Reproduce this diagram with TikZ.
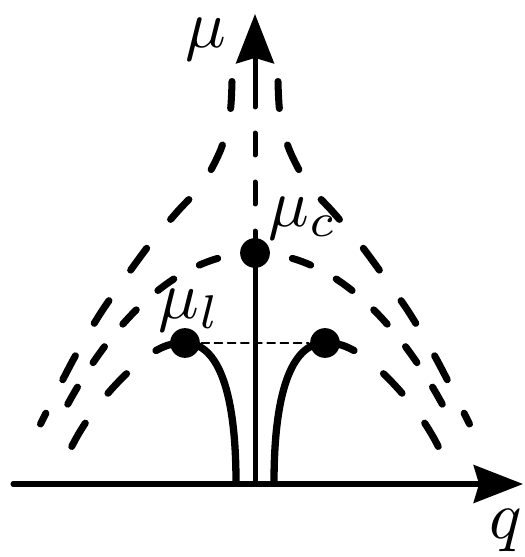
\documentclass[tikz,border=0pt]{standalone}
\usetikzlibrary{arrows.meta}
\begin{document}
\begin{tikzpicture}[scale=0.26, line join=round, line cap=round, >={Stealth[length=7.3pt,width=5.6pt,inset=0.8pt]},
		axis/.style={line width=0.74pt},
		dot/.style={circle, fill, inner sep=0pt, minimum size=4.4pt},
		branch/.style={line width=1.08pt},
		outerdash/.style={line width=1.04pt, dash pattern=on 4pt off 5.55pt},
		innerdash/.style={line width=1.04pt, dash pattern=on 4pt off 5.55pt, dash phase=4pt},
		peakdash/.style={line width=1.04pt, dash pattern=on 2.9pt off 4.3pt, dash phase=1.6pt},
		axisdash/.style={line width=0.74pt, dash pattern=on 3.25pt off 4pt},
		level/.style={line width=0.2pt, dash pattern=on 1.2pt off 0.75pt}]
				\useasboundingbox (-5.1,-1.46) rectangle (5.4,9.68);
				\coordinate (O) at (0,0);
				\coordinate (qstart) at (-4.84,0);
				\coordinate (qtip) at (5.36,0);
				\coordinate (mubreak) at (0,7.54);
				\coordinate (mutop) at (0,9.4);
				\node[dot] (muc) at (0,4.62) {};
				\node[dot] (ldot) at (-1.4,2.82) {};
				\node[dot] (rdot) at (1.4,2.82) {};
				\foreach \s in {1,-1}{
					\begin{scope}[xscale=\s]
						\draw[outerdash] plot[smooth] coordinates {(-0.46,8.05) (-0.5,7.4) (-0.68,6.7) (-1.05,6.0) (-1.55,5.45) (-2.1,4.8) (-2.6,4.12) (-3.1,3.4) (-3.6,2.55) (-4.0,1.78) (-4.29,1.2)};
						\draw[peakdash] (0,4.62) .. controls (-1.8,4.62) and (-3.2,2.76) .. (-4.0,1.1);
						\draw[branch] (-0.38,0.03) .. controls (-0.38,1.8) and (-0.72,2.82) .. (-1.4,2.82) .. controls (-1.7,2.82) and (-1.82,2.75) .. (-1.98,2.67);
						\draw[innerdash] (-1.98,2.67) .. controls (-2.55,2.33) and (-3.3,1.5) .. (-3.68,0.72);
					\end{scope}
				}
				\draw[axis] (O) -- (muc.center);
				\draw[axisdash] (muc.center) -- (mubreak);
				\draw[axis, ->] (mubreak) -- (mutop);
				\draw[axis, ->] (qstart) -- (qtip);
				\draw[level] (ldot) -- (rdot);
				\node (mulabel) at (-0.98,8.88) {$\mu$};
				\node (qlabel) at (5.01,-0.94) {$q$};
				\node[above right, inner sep=1.8pt] (muclabel) at (muc.center) {$\mu_c$};
				\node[above, inner sep=1.5pt, xshift=0.7pt] (mullabel) at (ldot.center) {$\mu_l$};
			\end{tikzpicture}
\end{document}
